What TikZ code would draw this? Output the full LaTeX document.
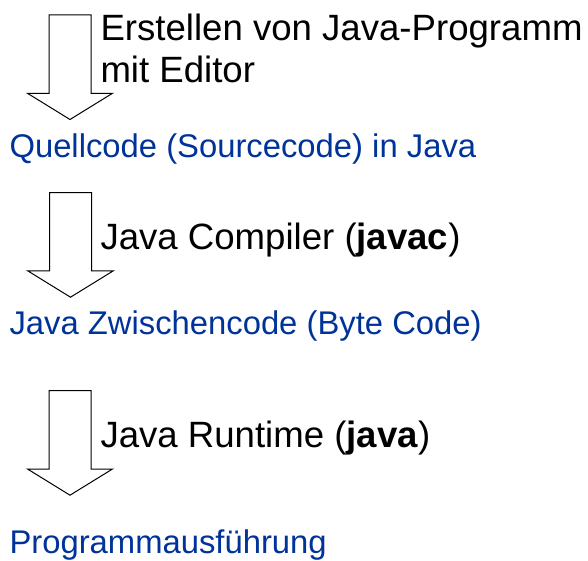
\documentclass[tikz,border=0pt]{standalone}
\usepackage{fontspec}
\setmainfont{Liberation Sans}
\definecolor{codeblue}{RGB}{0,51,153}
\tikzset{
  x=1pt, y=1pt,
  arrowline/.style={draw=black, line width=1pt, fill=white, line join=miter},
  steptext/.style={anchor=base west, inner sep=0pt, outer sep=0pt, text=black,
    font=\fontsize{36.6}{42}\selectfont},
  resulttext/.style={anchor=base west, inner sep=0pt, outer sep=0pt, text=codeblue,
    font=\fontsize{32.8}{38}\selectfont},
  blockarrow/.pic={
    \draw[arrowline] (-21,0) -- (21,0) -- (21,-78.3) -- (42.5,-78.3) -- (0,-104.5)
      -- (-42.5,-78.3) -- (-21,-78.3) -- cycle;
  }
}
\begin{document}
\begin{tikzpicture}
\useasboundingbox (0,0) rectangle (588,560);
% block arrows
\pic (a1) at (70,545) {blockarrow};
\pic (a2) at (70.5,367.3) {blockarrow};
\pic (a3) at (70,169.3) {blockarrow};
% step labels
\node[steptext] (edit1) at (100.5,519) {Erstellen von Java-Programm};
\node[steptext] (edit2) at (100.5,477) {mit Editor};
\node[steptext] (compile) at (100.5,310) {Java Compiler (\textbf{javac})};
\node[steptext] (run) at (100.5,113) {Java Runtime (\textbf{java})};
% results
\node[resulttext] (src) at (9.5,402) {Quellcode (Sourcecode) in Java};
\node[resulttext] (byte) at (9.5,226) {Java Zwischencode (Byte Code)};
\node[resulttext] (exec) at (9.5,7) {Programmausführung};
\end{tikzpicture}
\end{document}
